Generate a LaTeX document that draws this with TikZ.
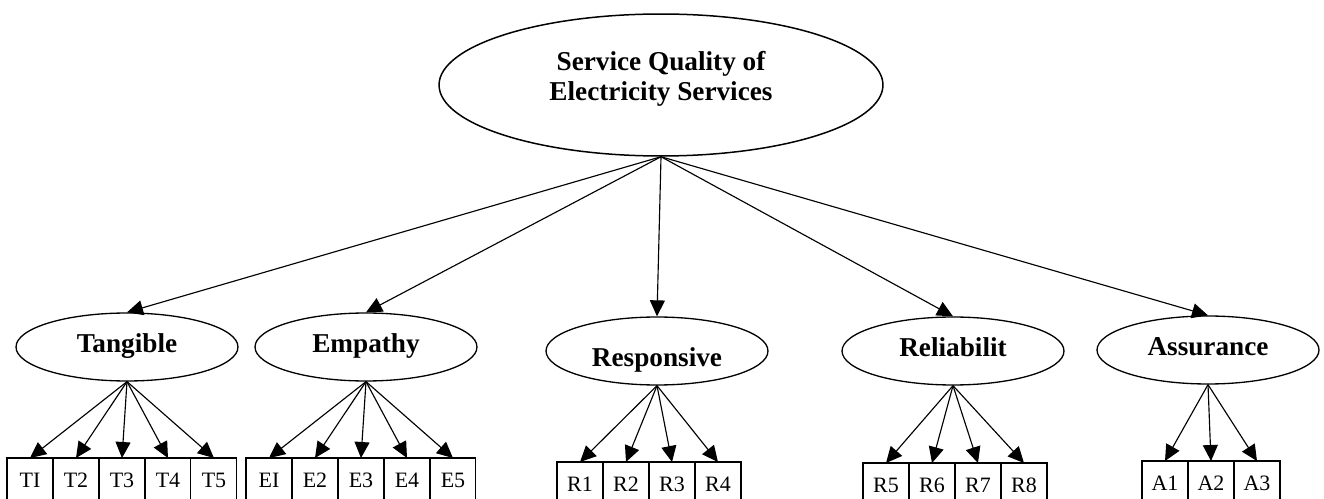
\documentclass[tikz,border=0pt]{standalone}
\usepackage{fontspec}
\setmainfont{Liberation Serif}
\usetikzlibrary{arrows.meta, positioning, shapes}

\begin{document}
\begin{tikzpicture}[x=0.02cm,y=-0.02cm]
    \tikzstyle{every node} = [font=\fontsize{12.5}{14}\selectfont]
    \tikzstyle{factor} = [draw, ellipse, line width=0.75pt, minimum width=4.44cm, minimum height=1.36cm, inner sep=0pt, font=\fontsize{15.5}{17}\selectfont\bfseries, text height=10.5pt, text depth=4.5pt]
    \tikzstyle{indicator} = [draw, rectangle, line width=0.6pt, minimum width=0.92cm, minimum height=0.88cm, inner sep=0pt, outer sep=0pt]
    \tikzstyle{link} = [-{Triangle[length=0.32cm,width=0.3cm]}, line width=0.65pt]
    \useasboundingbox (0,0) rectangle (1324,499);

    % place nodes
    \node[draw, ellipse, line width=0.85pt, minimum width=8.88cm, minimum height=2.84cm, inner sep=0pt](quality) at (661,85){};
    \node[align=center, font=\fontsize{15.5}{17}\selectfont\bfseries](qualityText) at (661,79){Service Quality of\\Electricity Services};

    \node[factor](tangible) at (127,347){Tangible};
    \node[factor](empathy) at (366,347){Empathy};
    \node[factor, text height=22.7pt](responsive) at (657,351){Responsive};
    \node[factor](reliability) at (953,351){Reliabilit};
    \node[factor](assurance) at (1208,350){Assurance};

    \node[indicator](t1) at (30,480){TI};
    \node[indicator,right=0pt of t1](t2){T2};
    \node[indicator,right=0pt of t2](t3){T3};
    \node[indicator,right=0pt of t3](t4){T4};
    \node[indicator,right=0pt of t4](t5){T5};

    \node[indicator](e1) at (269,480){EI};
    \node[indicator,right=0pt of e1](e2){E2};
    \node[indicator,right=0pt of e2](e3){E3};
    \node[indicator,right=0pt of e3](e4){E4};
    \node[indicator,right=0pt of e4](e5){E5};

    \node[indicator](r1) at (580,484){R1};
    \node[indicator,right=0pt of r1](r2){R2};
    \node[indicator,right=0pt of r2](r3){R3};
    \node[indicator,right=0pt of r3](r4){R4};

    \node[indicator](r5) at (886,485){R5};
    \node[indicator,right=0pt of r5](r6){R6};
    \node[indicator,right=0pt of r6](r7){R7};
    \node[indicator,right=0pt of r7](r8){R8};

    \node[indicator](a1) at (1165,483){A1};
    \node[indicator,right=0pt of a1](a2){A2};
    \node[indicator,right=0pt of a2](a3){A3};

    % Connections
    \draw[link] (quality.south)--(tangible.north);
    \draw[link] (quality.south)--(empathy.north);
    \draw[link] (quality.south)--(responsive.north);
    \draw[link] (quality.south)--(reliability.north);
    \draw[link] (quality.south)--(assurance.north);

    \draw[link] (tangible.south)--(t1.north);
    \draw[link] (tangible.south)--(t2.north);
    \draw[link] (tangible.south)--(t3.north);
    \draw[link] (tangible.south)--(t4.north);
    \draw[link] (tangible.south)--(t5.north);

    \draw[link] (empathy.south)--(e1.north);
    \draw[link] (empathy.south)--(e2.north);
    \draw[link] (empathy.south)--(e3.north);
    \draw[link] (empathy.south)--(e4.north);
    \draw[link] (empathy.south)--(e5.north);

    \draw[link] (responsive.south)--(r1.north);
    \draw[link] (responsive.south)--(r2.north);
    \draw[link] (responsive.south)--(r3.north);
    \draw[link] (responsive.south)--(r4.north);

    \draw[link] (reliability.south)--(r5.north);
    \draw[link] (reliability.south)--(r6.north);
    \draw[link] (reliability.south)--(r7.north);
    \draw[link] (reliability.south)--(r8.north);

    \draw[link] (assurance.south)--(a1.north);
    \draw[link] (assurance.south)--(a2.north);
    \draw[link] (assurance.south)--(a3.north);

  \end{tikzpicture}
\end{document}
